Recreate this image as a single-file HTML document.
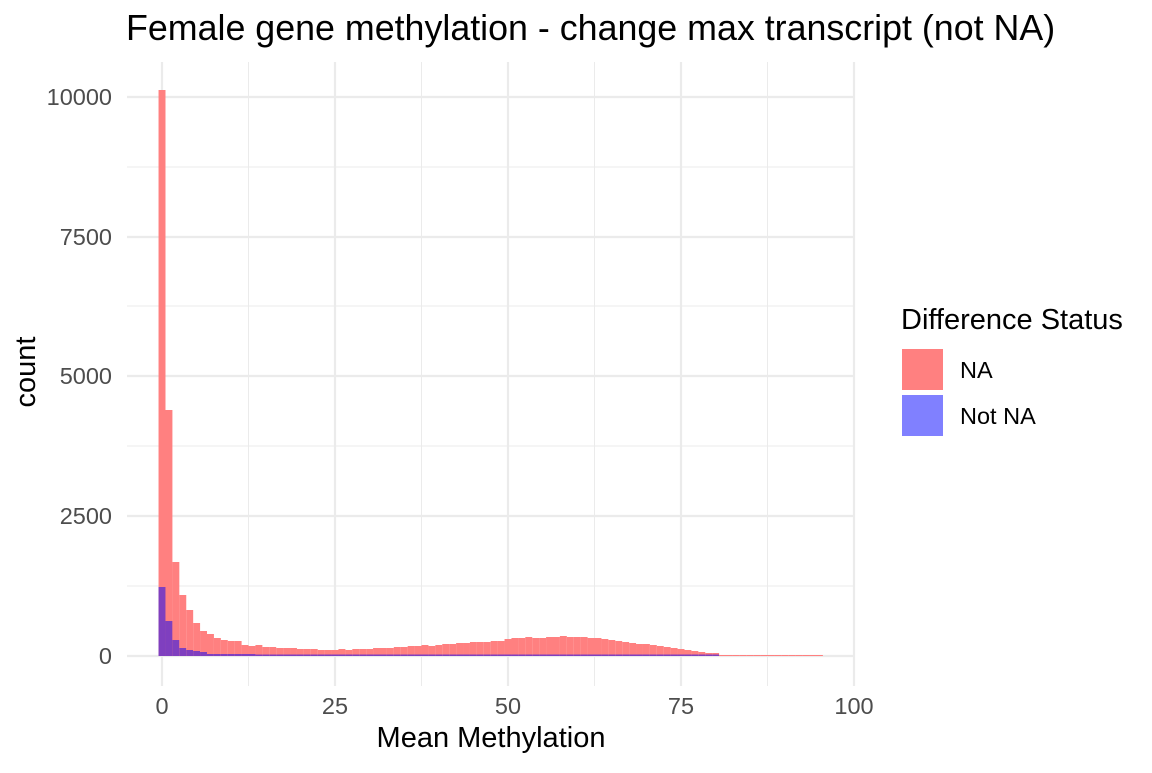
<!DOCTYPE html>
<html><head><style>
body{margin:0;background:#fff;}
svg text{font-family:"Liberation Sans",sans-serif;}
</style></head><body>
<svg id="s" width="1152" height="768" xmlns="http://www.w3.org/2000/svg">
<rect width="1152" height="768" fill="#fff"/>
<g stroke="#ebebeb" stroke-width="1">
<line x1="127" x2="854" y1="586" y2="586"/><line x1="127" x2="854" y1="446" y2="446"/>
<line x1="127" x2="854" y1="306" y2="306"/><line x1="127" x2="854" y1="167" y2="167"/>
<line x1="248.5" x2="248.5" y1="62" y2="686"/><line x1="421.5" x2="421.5" y1="62" y2="686"/>
<line x1="594.5" x2="594.5" y1="62" y2="686"/><line x1="767.5" x2="767.5" y1="62" y2="686"/>
</g>
<g stroke="#ebebeb" stroke-width="2.2">
<line x1="127" x2="854" y1="656" y2="656"/><line x1="127" x2="854" y1="516" y2="516"/>
<line x1="127" x2="854" y1="376" y2="376"/><line x1="127" x2="854" y1="237" y2="237"/>
<line x1="127" x2="854" y1="97" y2="97"/>
<line x1="162" x2="162" y1="62" y2="686"/><line x1="335" x2="335" y1="62" y2="686"/>
<line x1="508" x2="508" y1="62" y2="686"/><line x1="681" x2="681" y1="62" y2="686"/>
<line x1="854" x2="854" y1="62" y2="686"/>
</g>
<g id="bars"></g>
<text x="126" y="40" font-size="35.8" fill="#000">Female gene methylation - change max transcript (not NA)</text>
<g font-size="23.5" fill="#4d4d4d" text-anchor="end">
<text x="112" y="664">0</text><text x="112" y="524">2500</text><text x="112" y="384">5000</text>
<text x="112" y="245">7500</text><text x="112" y="105">10000</text>
</g>
<g font-size="23.5" fill="#4d4d4d" text-anchor="middle">
<text x="162" y="714">0</text><text x="335" y="714">25</text><text x="508" y="714">50</text>
<text x="681" y="714">75</text><text x="854" y="714">100</text>
</g>
<text x="491" y="747" font-size="29" text-anchor="middle">Mean Methylation</text>
<text transform="translate(35,372) rotate(-90)" font-size="29" text-anchor="middle">count</text>
<text x="901" y="329" font-size="29">Difference Status</text>
<rect x="902" y="349" width="41" height="41" fill="#ff8080"/>
<rect x="902" y="395" width="41" height="41" fill="#8080ff"/>
<text x="960" y="378" font-size="23.5">NA</text>
<text x="960" y="424" font-size="23.5">Not NA</text>
</svg>
<script>
var r=[90,410,562,595,610,623,631,634,638,640,641,641,645,646,645,647,647,648,648,648,649,649,649,650,650,650,649,650,649,649,649,648,648,648,647,647,646,646,645,646,645,644,644,643,643,642,642,642,641,641,639,638,638,637,638,638,637,637,636,637,637,637,638,638,639,640,641,642,643,644,644,645,646,647,648,649,650,651,652,653,653,655,655,655,655,655,655,655,655,655,655,655,655,655,655,655];
var p=[587,621,640,648,650,651,652,654,654,654,654,654,654,654];
var g=document.getElementById('bars'),h='';
for(var i=0;i<r.length;i++){var x=162+(i-0.5)*6.92;
h+='<rect x="'+x.toFixed(2)+'" y="'+r[i]+'" width="6.95" height="'+(656-r[i])+'" fill="#ff8080"/>';
var py=i<p.length?p[i]:(i<=80?654.5:656);
if(py<656)h+='<rect x="'+x.toFixed(2)+'" y="'+py+'" width="6.95" height="'+(656-py)+'" fill="#7f3fbf"/>';}
g.innerHTML=h;
</script>
</body></html>
